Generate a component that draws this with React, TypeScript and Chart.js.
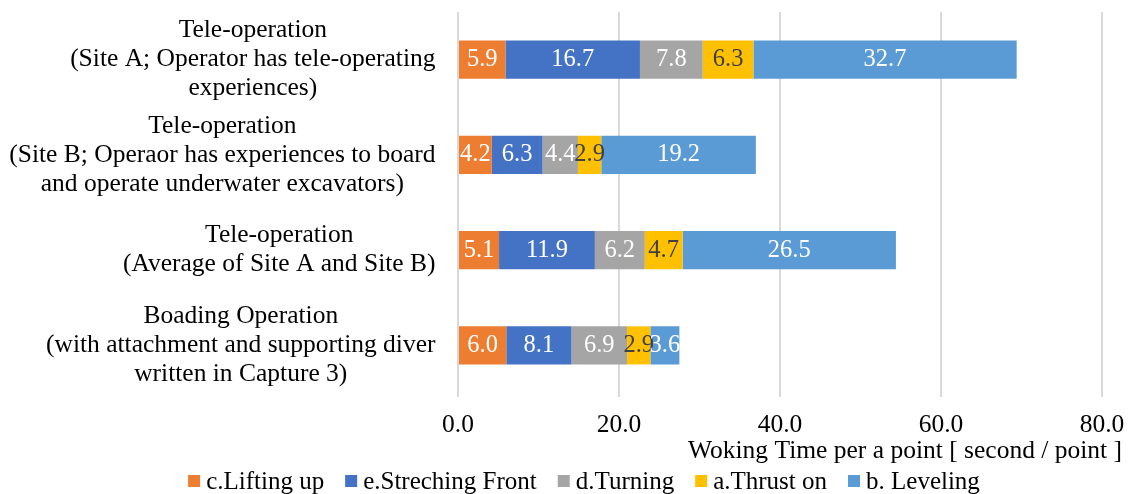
import { useEffect, useRef } from "react";
import { Chart, registerables } from "chart.js";

Chart.register(...registerables);

// Category labels (one array of lines per bar)
const categories: string[][] = [
  ["Tele-operation", "(Site A; Operator has tele-operating", "experiences)"],
  ["Tele-operation", "(Site B; Operaor has experiences to board", "and operate underwater excavators)"],
  ["Tele-operation", "(Average of Site A and Site B)"],
  ["Boading Operation", "(with attachment and supporting diver", "written in Capture 3)"],
];

// Working time per step [second / point]
const liftingUp = [5.9, 4.2, 5.1, 6.0];
const strechingFront = [16.7, 6.3, 11.9, 8.1];
const turning = [7.8, 4.4, 6.2, 6.9];
const thrustOn = [6.3, 2.9, 4.7, 2.9];
const leveling = [32.7, 19.2, 26.5, 3.6];

const seriesNames = ["c.Lifting up", "e.Streching Front", "d.Turning", "a.Thrust on", "b. Leveling"];
const seriesValues = [liftingUp, strechingFront, turning, thrustOn, leveling];
const seriesColors = ["#ED7D31", "#4472C4", "#A5A5A5", "#FFC000", "#5B9BD5"];
const valueTextColors = ["#FFFFFF", "#FFFFFF", "#FFFFFF", "#404040", "#FFFFFF"];

const xMin = 0;
const xMax = 80;
const xStep = 20;
const xTitle = "Woking Time per a point [ second / point ]";

const FONT = '"Liberation Serif", "Times New Roman", serif';
const W = 1131;
const H = 494;

// Multi-line category labels: each block right-aligned, its lines centred on each other
const categoryLabelPlugin = {
  id: "categoryLabels",
  afterDraw(chart: any) {
    const { ctx, chartArea } = chart;
    const yScale = chart.scales.y;
    const lineH = 29;
    ctx.save();
    ctx.font = `25.5px ${FONT}`;
    ctx.fillStyle = "#000000";
    ctx.textAlign = "center";
    ctx.textBaseline = "middle";
    categories.forEach((lines, i) => {
      const yc = yScale.getPixelForValue(i);
      const widest = Math.max(...lines.map((l) => ctx.measureText(l).width));
      const cx = chartArea.left - 22.5 - widest / 2;
      lines.forEach((line, j) => {
        ctx.fillText(line, cx, yc + (j - (lines.length - 1) / 2) * lineH);
      });
    });
    ctx.restore();
  },
};

// Value labels centred in every stacked segment
const valueLabelPlugin = {
  id: "valueLabels",
  afterDatasetsDraw(chart: any) {
    const { ctx } = chart;
    ctx.save();
    ctx.font = `24.5px ${FONT}`;
    ctx.textAlign = "center";
    ctx.textBaseline = "middle";
    chart.data.datasets.forEach((ds: any, i: number) => {
      const meta = chart.getDatasetMeta(i);
      meta.data.forEach((bar: any, j: number) => {
        const { x, base, y } = bar.getProps(["x", "base", "y"], true);
        ctx.fillStyle = valueTextColors[i];
        ctx.fillText(Number(ds.data[j]).toFixed(1), (x + base) / 2, y);
      });
    });
    ctx.restore();
  },
};

// Axis title (right-aligned) and legend row along the bottom
const footerPlugin = {
  id: "footer",
  afterDraw(chart: any) {
    const { ctx } = chart;
    ctx.save();
    ctx.font = `25.5px ${FONT}`;
    ctx.fillStyle = "#000000";
    ctx.textBaseline = "alphabetic";
    ctx.textAlign = "right";
    ctx.fillText(xTitle, 1122, 458);

    ctx.font = `25px ${FONT}`;
    const box = 12;
    const gap = 6;
    const spacing = 21;
    const widths = seriesNames.map((n) => ctx.measureText(n).width);
    const total =
      widths.reduce((a, b) => a + b, 0) + seriesNames.length * (box + gap) + (seriesNames.length - 1) * spacing;
    let x = 584 - total / 2;
    const baseline = 489;
    ctx.textAlign = "left";
    seriesNames.forEach((name, i) => {
      ctx.fillStyle = seriesColors[i];
      ctx.fillRect(x, baseline - 14, box, box);
      ctx.fillStyle = "#000000";
      ctx.fillText(name, x + box + gap, baseline);
      x += box + gap + widths[i] + spacing;
    });
    ctx.restore();
  },
};

export default function App() {
  const canvasRef = useRef<HTMLCanvasElement | null>(null);

  useEffect(() => {
    if (!canvasRef.current) return;
    const chart = new Chart(canvasRef.current, {
      type: "bar",
      data: {
        labels: categories.map((c) => c.join(" ")),
        datasets: seriesNames.map((name, i) => ({
          label: name,
          data: seriesValues[i],
          backgroundColor: seriesColors[i],
          borderWidth: 0,
          categoryPercentage: 0.8,
          barPercentage: 0.5,
        })),
      },
      options: {
        indexAxis: "y",
        responsive: false,
        animation: false,
        devicePixelRatio: 1,
        layout: { padding: { top: 12, right: 29, bottom: 0, left: 0 } },
        plugins: {
          legend: { display: false },
          tooltip: { enabled: false },
          title: { display: false },
        },
        scales: {
          x: {
            stacked: true,
            min: xMin,
            max: xMax,
            ticks: {
              stepSize: xStep,
              autoSkip: false,
              maxRotation: 0,
              padding: 13,
              color: "#000000",
              font: { family: FONT, size: 25.5 },
              callback: (v: any) => Number(v).toFixed(1),
            },
            grid: { color: "#d9d9d9", lineWidth: 2, tickLength: 4, drawTicks: true },
            border: { display: false },
            afterFit: (s: any) => {
              s.height = 101;
              s.paddingLeft = 0;
              s.paddingRight = 0;
            },
          },
          y: {
            stacked: true,
            ticks: { display: false },
            grid: { display: false },
            border: { display: false },
            afterFit: (s: any) => {
              s.width = 458;
            },
          },
        },
      },
      plugins: [valueLabelPlugin, categoryLabelPlugin, footerPlugin],
    } as any);
    return () => chart.destroy();
  }, []);

  return (
    <div style={{ position: "fixed", left: 0, top: 0, width: W, height: H, background: "#ffffff" }}>
      <canvas ref={canvasRef} width={W} height={H} style={{ display: "block" }} />
    </div>
  );
}
